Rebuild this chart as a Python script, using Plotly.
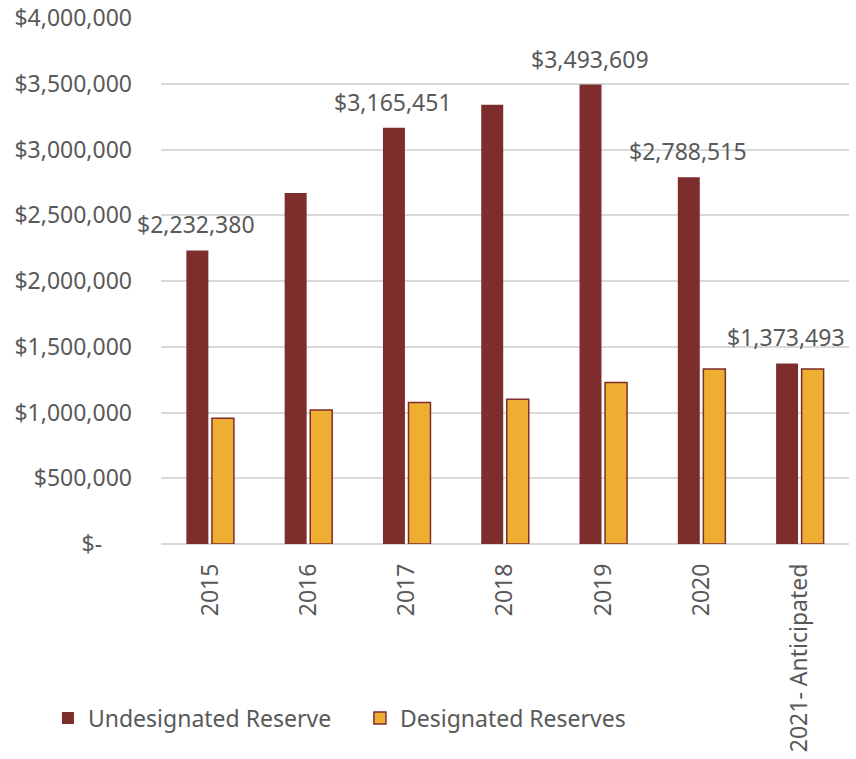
import plotly.graph_objects as go

# Reserve balances by year
years = ["2015", "2016", "2017", "2018", "2019", "2020", "2021- Anticipated"]
undesignated = [2232380, 2669000, 3165451, 3341000, 3493609, 2788515, 1373493]
designated = [957000, 1019000, 1076000, 1101000, 1229000, 1331000, 1331000]

# Only selected bars carry a value label
labelled = [True, False, True, False, True, True, True]

tick_vals = [0, 500000, 1000000, 1500000, 2000000, 2500000, 3000000, 3500000, 4000000]
tick_text = ["$-\u00a0\u00a0\u00a0\u00a0\u00a0", "$500,000", "$1,000,000", "$1,500,000", "$2,000,000",
             "$2,500,000", "$3,000,000", "$3,500,000", "$4,000,000"]

GREY = "#595959"
FONT = "Noto Sans"
SIZE = 23

fig = go.Figure()
fig.add_trace(go.Bar(
    name="Undesignated Reserve",
    x=years, y=undesignated,
    marker=dict(color="#7E2D2D", line=dict(color="#7E2D2D", width=0)),
))
fig.add_trace(go.Bar(
    name="Designated Reserves",
    x=years, y=designated,
    marker=dict(color="#EDAE32", line=dict(color="#7E2D2D", width=1.5)),
))

# Value labels above the undesignated bars (category index, nudged onto the left bar)
for i, (v, show) in enumerate(zip(undesignated, labelled)):
    if show:
        fig.add_annotation(x=i - 0.14, y=v, xref="x", yref="y", text=f"${v:,.0f}",
                           showarrow=False, yanchor="middle", yshift=26,
                           font=dict(family=FONT, size=SIZE, color=GREY))

fig.update_layout(
    width=856, height=759,
    margin=dict(l=161, r=7, t=18, b=215, autoexpand=False),
    paper_bgcolor="white", plot_bgcolor="white",
    barmode="group", bargap=0.48, bargroupgap=0.14,
    font=dict(family=FONT, size=SIZE, color=GREY),
    showlegend=True,
    legend=dict(orientation="h", xref="container", x=0.056, xanchor="left",
                yref="container", y=1 - 718 / 759, yanchor="middle",
                font=dict(family=FONT, size=SIZE, color=GREY),
                itemwidth=30, traceorder="normal", entrywidth=267, entrywidthmode="pixels"),
    xaxis=dict(type="category", tickangle=-90,
               tickfont=dict(family=FONT, size=SIZE, color=GREY),
               range=[-0.5, 6.5],
               showgrid=False, showline=False, ticks="", ticklabelstandoff=14),
    yaxis=dict(range=[0, 4000000], tickvals=tick_vals, ticktext=tick_text,
               showgrid=True, gridcolor="#D9D9D9", gridwidth=1.5,
               zeroline=True, zerolinecolor="#D9D9D9", zerolinewidth=1.5,
               ticklabelstandoff=28,
               tickfont=dict(family=FONT, size=SIZE, color=GREY), showline=False),
)

fig.write_html("out.html")
